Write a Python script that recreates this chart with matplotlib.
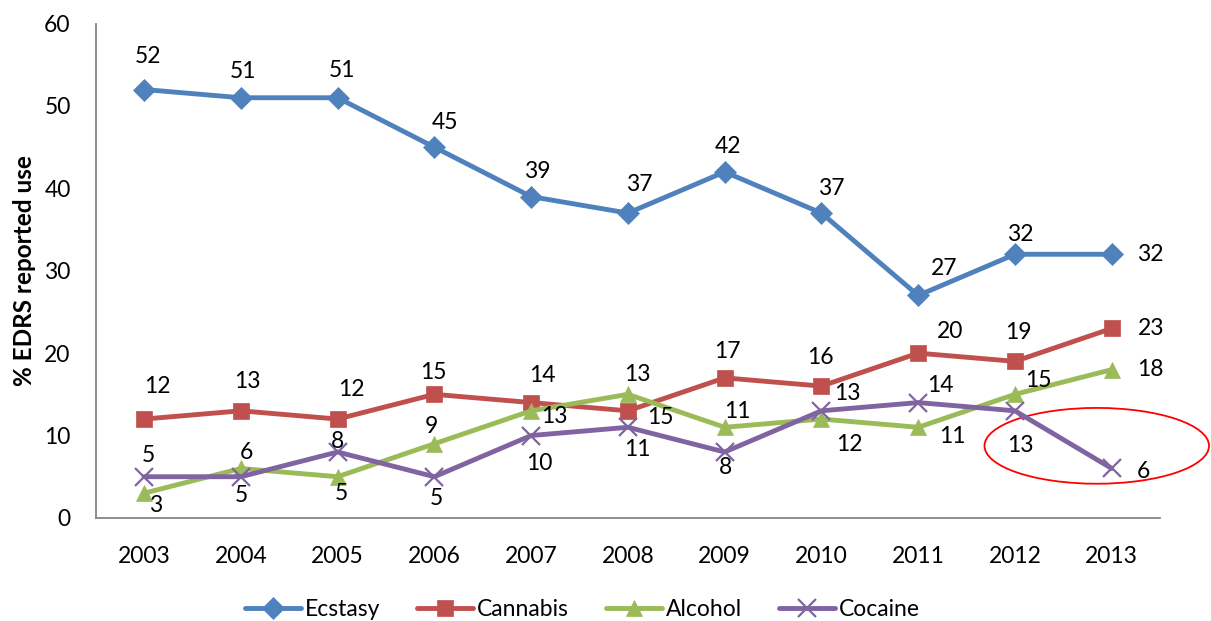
import matplotlib.pyplot as plt
from matplotlib.patches import Ellipse

plt.rcParams['font.family'] = ['Lato', 'DejaVu Sans']

years = ['2003', '2004', '2005', '2006', '2007', '2008', '2009', '2010', '2011', '2012', '2013']
ecstasy = [52, 51, 51, 45, 39, 37, 42, 37, 27, 32, 32]
cannabis = [12, 13, 12, 15, 14, 13, 17, 16, 20, 19, 23]
alcohol = [3, 6, 5, 9, 13, 15, 11, 12, 11, 15, 18]
cocaine = [5, 5, 8, 5, 10, 11, 8, 13, 14, 13, 6]

# label offsets in pixels (dx right, dy down) so labels dodge the crossing lines
ecstasy_off = [(4, -33), (2, -26), (4, -27), (11, -25), (6, -25), (11, -29),
               (3, -25), (10, -25), (26, -27), (5, -20), (39, 0)]
cannabis_off = [(13, -33), (7, -29), (14, -30), (-1, -22), (11, -27), (9, -36),
                (3, -26), (-1, -29), (32, -22), (3, -29), (39, 0)]
alcohol_off = [(12, 12), (6, -16), (4, 17), (-3, -17), (23, 6), (32, 23),
               (13, -16), (28, 25), (34, 9), (23, -14), (39, 0)]
cocaine_off = [(4, -21), (1, 19), (0, -11), (2, 22), (8, 28), (9, 22),
               (1, 15), (26, -17), (22, -17), (5, 35), (32, 3)]

series = [
    ('Ecstasy', ecstasy, ecstasy_off, '#4F81BD', 'D', 11),
    ('Cannabis', cannabis, cannabis_off, '#C0504D', 's', 12),
    ('Alcohol', alcohol, alcohol_off, '#9BBB59', '^', 12),
    ('Cocaine', cocaine, cocaine_off, '#8064A2', 'x', 13),
]

fig = plt.figure(figsize=(12.11, 6.21), dpi=100)
ax = fig.add_axes([0.079, 0.166, 0.879, 0.796])

x = list(range(len(years)))
for name, vals, offs, col, mk, ms in series:
    ax.plot(x, vals, color=col, lw=3.5, marker=mk, markersize=ms,
            markeredgewidth=1.6 if mk == 'x' else 0.5, markeredgecolor=col,
            label=name, solid_capstyle='round', clip_on=False)
    for xi, v, (dx, dy) in zip(x, vals, offs):
        ax.annotate(str(v), (xi, v), xytext=(dx, -dy), textcoords='offset pixels',
                    ha='center', va='center', fontsize=16.5, color='black')

# highlight the 2013 cocaine drop
ax.add_patch(Ellipse((9.845, 8.75), 2.32, 9.2, fill=False, edgecolor='red',
                     lw=1.3, clip_on=False))

ax.set_xlim(-0.5, 10.5)
ax.set_ylim(0, 60)
ax.set_yticks(range(0, 61, 10))
ax.set_xticks(x)
ax.set_xticklabels(years)
ax.tick_params(axis='both', length=0, labelsize=16.5)
ax.tick_params(axis='y', pad=18)
ax.tick_params(axis='x', pad=20)
for s in ['top', 'right']:
    ax.spines[s].set_visible(False)
for s in ['left', 'bottom']:
    ax.spines[s].set_color('#868686')
    ax.spines[s].set_linewidth(1.3)

ax.set_ylabel('% EDRS reported use', fontsize=17.5, fontweight='bold')
ax.yaxis.set_label_coords(-0.056, 0.5)

fig.legend(loc='center', bbox_to_anchor=(0.481, 0.018), ncol=4, frameon=False,
           fontsize=16.5, handlelength=2.45, columnspacing=1.6, handletextpad=0.17)

fig.savefig('out.png', dpi=100)
